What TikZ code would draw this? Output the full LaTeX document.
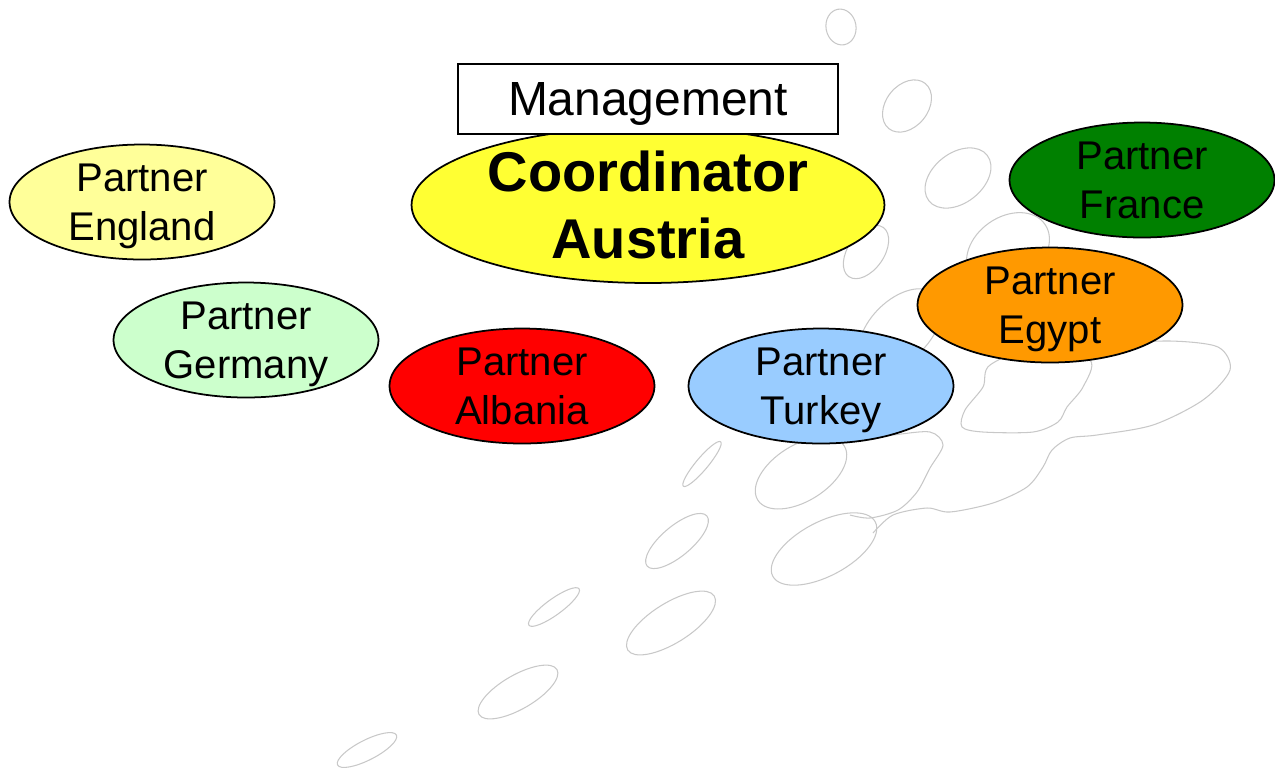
\documentclass[tikz,border=0pt]{standalone}
\usepackage{fontspec}
\setmainfont{Liberation Sans}
\usetikzlibrary{shapes.geometric}

\definecolor{engyellow}{HTML}{FFFF99}
\definecolor{gergreen}{HTML}{CCFFCC}
\definecolor{coordyellow}{HTML}{FFFF33}
\definecolor{albred}{HTML}{FF0000}
\definecolor{turblue}{HTML}{99CCFF}
\definecolor{egyorange}{HTML}{FF9900}
\definecolor{fragreen}{HTML}{008000}
\definecolor{ovalgray}{HTML}{C8C8C8}

\begin{document}
\begin{tikzpicture}[x=0.02cm, y=-0.02cm]
\tikzstyle{every node}=[font=\fontsize{22.8}{27.6}\selectfont]
\tikzstyle{partner}=[draw, ellipse, line width=1pt, inner sep=0pt, align=center, text depth=-0.24cm, minimum width=5.3cm, minimum height=2.3cm]
\tikzstyle{oval}=[draw=ovalgray, line width=0.6pt]

\useasboundingbox (0,0) rectangle (1275,769);

% background ovals
\draw[oval, rotate around={100:(841,27)}] (841,27) ellipse [x radius=18, y radius=15];
\draw[oval, rotate around={51:(907,106)}] (907,106) ellipse [x radius=29, y radius=21];
\draw[oval, rotate around={38:(958,178)}] (958,178) ellipse [x radius=37, y radius=25];
\draw[oval, rotate around={55:(866,252)}] (866,252) ellipse [x radius=30, y radius=18];
\draw[oval, rotate around={35:(1008,250)}] (1008,250) ellipse [x radius=45, y radius=33];
\draw[oval, rotate around={45:(900,330)}] (900,330) ellipse [x radius=50, y radius=30];
\draw[oval, rotate around={50:(702,464)}] (702,464) ellipse [x radius=29, y radius=6];
\draw[oval, rotate around={32:(801,473)}] (801,473) ellipse [x radius=51, y radius=28];
\draw[oval, rotate around={28:(824,549)}] (824,549) ellipse [x radius=58, y radius=27];
\draw[oval, rotate around={40:(677,541)}] (677,541) ellipse [x radius=39, y radius=15];
\draw[oval, rotate around={32:(671,623)}] (671,623) ellipse [x radius=51, y radius=20];
\draw[oval, rotate around={36:(554,607)}] (554,607) ellipse [x radius=31, y radius=8];
\draw[oval, rotate around={30:(518,692)}] (518,692) ellipse [x radius=45, y radius=17];
\draw[oval, rotate around={27:(367,750)}] (367,750) ellipse [x radius=33, y radius=10];

% blobs
\draw[oval] plot[smooth] coordinates {(845,441) (893,435) (930,432) (943,445) (930,468) (917,492) (898,510) (870,518) (850,515)};
\draw[oval] plot[smooth] coordinates {(873,533) (893,515) (927,508) (950,512) (993,503) (1027,487) (1043,467) (1052,450) (1070,438) (1097,435) (1153,425) (1203,400) (1230,370) (1218,347) (1170,341) (1120,345) (1090,360)};
\draw[oval] plot[smooth cycle] coordinates {(1040,345) (1090,360) (1083,387) (1067,407) (1058,422) (1033,432) (983,432) (962,427) (965,410) (983,387) (990,365)};

% partners
\node[partner, fill=engyellow] (england) at (142,202) {Partner\\England};
\node[partner, fill=gergreen] (germany) at (246,340) {Partner\\Germany};
\node[partner, fill=albred] (albania) at (522,386) {Partner\\Albania};
\node[partner, fill=turblue] (turkey) at (821,386) {Partner\\Turkey};
\node[partner, fill=egyorange] (egypt) at (1050,305) {Partner\\Egypt};
\node[partner, fill=fragreen] (france) at (1142,180) {Partner\\France};

% coordinator and management
\node[partner, fill=coordyellow, text depth=0pt, minimum width=9.46cm, minimum height=3.12cm,
      font=\bfseries\fontsize{31.9}{38.1}\selectfont] (coord) at (648,205) {Coordinator\\Austria};
\node[draw, fill=white, line width=1pt, inner sep=0pt, text depth=0pt, minimum width=7.6cm, minimum height=1.4cm,
      font=\fontsize{27.3}{32}\selectfont] (mgmt) at (648,99) {Management};

\end{tikzpicture}
\end{document}
